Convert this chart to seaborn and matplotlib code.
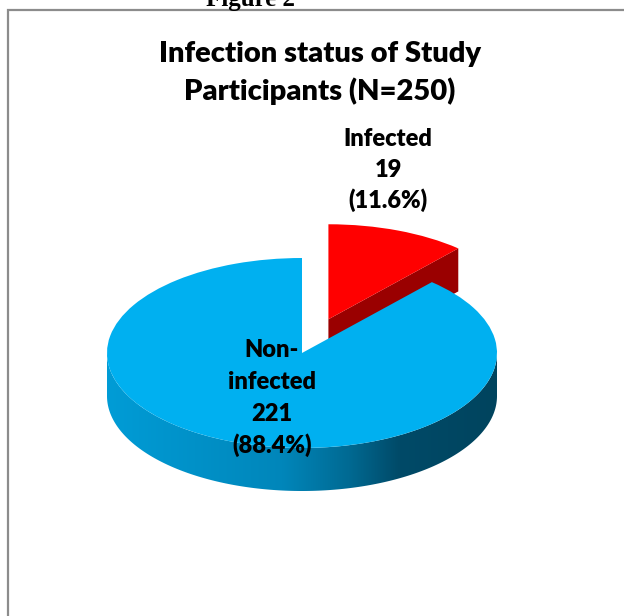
import numpy as np
import matplotlib
matplotlib.use("Agg")
import matplotlib.pyplot as plt
import seaborn as sns
from matplotlib.patches import Polygon, Rectangle
from matplotlib.colors import LinearSegmentedColormap

# ---- data ----
categories = ["Infected", "Non-infected"]
counts = [19, 221]
percents = [11.6, 88.4]
title_lines = ["Infection status of Study", "Participants (N=250)"]

sns.set_theme(style="white")
plt.rcParams['font.family'] = ['Lato', 'DejaVu Sans']
plt.rcParams['text.color'] = 'black'

W, H = 624, 616
fig = plt.figure(figsize=(W / 100, H / 100), dpi=100)
fig.patch.set_facecolor("white")

# geometry of the tilted pie (pixels)
cx, cy, rx, ry, depth_px = 302, 353, 195, 95, 43
d = depth_px / ry
explode_r = 0.38

ax = fig.add_axes([0, 0, 1, 1])
colors = ["#FF0000", "#00B0F0"]
wedges, _ = ax.pie(percents, colors=colors, startangle=90, counterclock=False,
                   explode=[explode_r, 0], radius=1, center=(0, 0),
                   wedgeprops=dict(linewidth=0))
ax.set_aspect('auto')
ax.axis('off')

# angles of the red wedge
frac = percents[0] / sum(percents)
a_end = np.deg2rad(90 - 360 * frac)
a_mid = np.deg2rad(90 - 180 * frac)
ex, ey = explode_r * np.cos(a_mid), explode_r * np.sin(a_mid)

# red cut face
quad = [(ex, ey), (ex + np.cos(a_end), ey + np.sin(a_end)),
        (ex + np.cos(a_end), ey + np.sin(a_end) - d), (ex, ey - d)]
ax.add_patch(Polygon(quad, closed=True, facecolor="#9A0000", edgecolor="none", zorder=1))
wedges[0].set_zorder(2)

# blue side with gradient
t = np.linspace(np.pi, 2 * np.pi, 200)
top = np.column_stack([np.cos(t), np.sin(t)])
bot = np.column_stack([np.cos(t[::-1]), np.sin(t[::-1]) - d])
side = Polygon(np.vstack([top, bot]), closed=True, facecolor="none", edgecolor="none")
ax.add_patch(side)
cmap = LinearSegmentedColormap.from_list(
    "side", [(0, "#009CD6"), (0.45, "#0086BA"), (0.62, "#006A93"), (0.75, "#004A68"), (1, "#00445E")])
grad = np.linspace(0, 1, 256)[None, :]
im = ax.imshow(grad, cmap=cmap, extent=[-1, 1, -1 - d, 0.05], aspect='auto', zorder=3)
im.set_clip_path(side)
wedges[1].set_zorder(4)
ax.set_xlim(-cx / rx, (W - cx) / rx)
ax.set_ylim(-(H - cy) / ry, cy / ry)

# frame
fig.add_artist(Rectangle((8 / W, -0.05), 1.2, 1 - 10 / H + 0.05, transform=fig.transFigure,
                         facecolor="none", edgecolor="#8C8C8C", linewidth=1.6))

def ftext(x, y, s, **kw):
    fig.text(x / W, 1 - y / H, s, color="black", **kw)

ftext(250, 6, "Figure 2", family=["Liberation Serif"], fontweight="bold", fontsize=18,
      ha="center", va="baseline")
ftext(320, 62, title_lines[0], fontweight="heavy", fontsize=21, ha="center", va="baseline")
ftext(320, 100, title_lines[1], fontweight="heavy", fontsize=21, ha="center", va="baseline")

lab_inf = [categories[0], str(counts[0]), f"({percents[0]}%)"]
for i, s in enumerate(lab_inf):
    ftext(388, 146 + 31 * i, s, fontweight="heavy", fontsize=17, ha="center", va="baseline")
lab_non = ["Non-", "infected", str(counts[1]), f"({percents[1]}%)"]
for i, s in enumerate(lab_non):
    ftext(272, 357 + 32 * i, s, fontweight="heavy", fontsize=17, ha="center", va="baseline", zorder=10)

fig.savefig("out.png", dpi=100)
